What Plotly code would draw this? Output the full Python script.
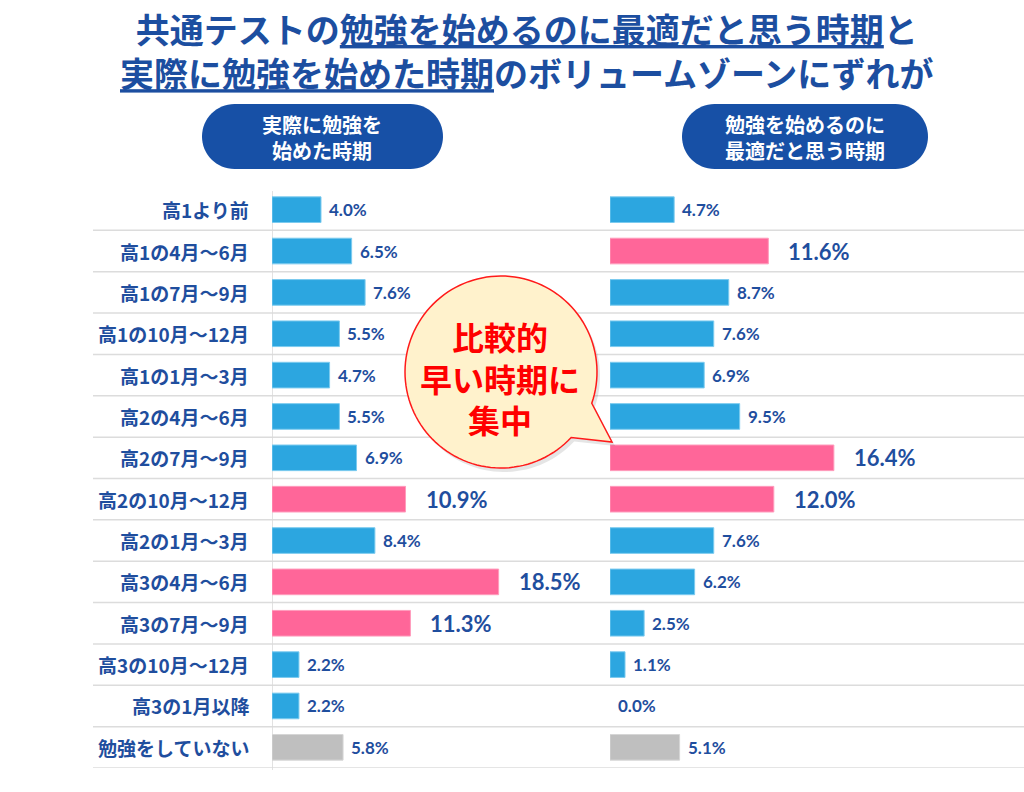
import math
import plotly.graph_objects as go

W, H = 1024, 792

categories = ["高1より前", "高1の4月～6月", "高1の7月～9月", "高1の10月～12月", "高1の1月～3月",
              "高2の4月～6月", "高2の7月～9月", "高2の10月～12月", "高2の1月～3月",
              "高3の4月～6月", "高3の7月～9月", "高3の10月～12月", "高3の1月以降", "勉強をしていない"]
actual_values = [4.0, 6.5, 7.6, 5.5, 4.7, 5.5, 6.9, 10.9, 8.4, 18.5, 11.3, 2.2, 2.2, 5.8]
ideal_values = [4.7, 11.6, 8.7, 7.6, 6.9, 9.5, 16.4, 12.0, 7.6, 6.2, 2.5, 1.1, 0.0, 5.1]
actual_highlight = ["高2の10月～12月", "高3の4月～6月", "高3の7月～9月"]
ideal_highlight = ["高1の4月～6月", "高2の7月～9月", "高2の10月～12月"]
no_study = "勉強をしていない"

title_text = ("共通テストの<u>勉強を始めるのに最適だと思う時期</u>と<br>"
              "<u>実際に勉強を始めた時期</u>のボリュームゾーンにずれが")
left_header = "実際に勉強を<br>始めた時期"
right_header = "勉強を始めるのに<br>最適だと思う時期"
bubble_text = "比較的<br>早い時期に<br>集中"

BLUE = "#2CA6E0"
PINK = "#FF6699"
GRAY = "#BFBFBF"
NAVY = "#1F4E9E"
PILL = "#1750A6"


def X(px):
    return px / W


def Y(py):
    return 1 - py / H


def colors_for(highlight):
    out = []
    for c in categories:
        if c == no_study:
            out.append(GRAY)
        elif c in highlight:
            out.append(PINK)
        else:
            out.append(BLUE)
    return out


def line_for(highlight):
    out = []
    for c in categories:
        if c == no_study:
            out.append("#D6D6D6")
        elif c in highlight:
            out.append("#FF9CBC")
        else:
            out.append("#7CCBEF")
    return out


def line_widths(values):
    return [1 if v > 0 else 0 for v in values]


fig = go.Figure()
fig.add_trace(go.Bar(x=actual_values, y=categories, orientation="h", xaxis="x", yaxis="y",
                     width=0.62, marker=dict(color=colors_for(actual_highlight),
                                             line=dict(color=line_for(actual_highlight),
                                                       width=line_widths(actual_values))),
                     hoverinfo="skip", showlegend=False))
fig.add_trace(go.Bar(x=ideal_values, y=categories, orientation="h", xaxis="x2", yaxis="y",
                     width=0.62, marker=dict(color=colors_for(ideal_highlight),
                                             line=dict(color=line_for(ideal_highlight),
                                                       width=line_widths(ideal_values))),
                     hoverinfo="skip", showlegend=False))

left_scale = 12.25
right_scale = 13.65
fig.update_layout(
    width=W, height=H, margin=dict(l=0, r=0, t=0, b=0),
    paper_bgcolor="white", plot_bgcolor="rgba(0,0,0,0)",
    barmode="overlay",
    xaxis=dict(domain=[X(272), X(600)], range=[0, (600 - 272) / left_scale], visible=False, fixedrange=True),
    xaxis2=dict(domain=[X(610), 1], range=[0, (W - 610) / right_scale], visible=False, fixedrange=True),
    yaxis=dict(domain=[Y(768), Y(189)], type="category", categoryorder="array", categoryarray=categories,
               range=[len(categories) - 0.5, -0.5], visible=False, fixedrange=True),
)

shapes = []
# row separator lines
for i in range(len(categories)):
    shapes.append(dict(type="line", xref="paper", yref="y", x0=X(93), x1=1, y0=i + 0.5, y1=i + 0.5,
                       line=dict(color="#DCDCDC", width=1.5), layer="below"))
# left axis line
shapes.append(dict(type="line", xref="x", yref="paper", x0=0, x1=0, y0=Y(191), y1=Y(770),
                   line=dict(color="#D9D9D9", width=1.5), layer="below"))


def pill_path(x0, x1, y0, y1):
    r = (y1 - y0) / 2
    k = 0.5523 * r
    ym = (y0 + y1) / 2
    pts = [("M", [(x0 + r, y0)]), ("L", [(x1 - r, y0)]),
           ("C", [(x1 - r + k, y0), (x1, ym - k), (x1, ym)]),
           ("C", [(x1, ym + k), (x1 - r + k, y1), (x1 - r, y1)]),
           ("L", [(x0 + r, y1)]),
           ("C", [(x0 + r - k, y1), (x0, ym + k), (x0, ym)]),
           ("C", [(x0, ym - k), (x0 + r - k, y0), (x0 + r, y0)])]
    s = ""
    for cmd, ps in pts:
        s += cmd + " " + " ".join(f"{X(a):.5f},{Y(b):.5f}" for a, b in ps) + " "
    return s + "Z"


shapes.append(dict(type="path", xref="paper", yref="paper", path=pill_path(202, 443, 104, 169),
                   fillcolor=PILL, line=dict(width=0)))
shapes.append(dict(type="path", xref="paper", yref="paper", path=pill_path(682, 928, 104, 169),
                   fillcolor=PILL, line=dict(width=0)))


def bubble_path(cx, cy, r, a_start, a_end, tip, dx=0, dy=0):
    pts = []
    n = 120
    span = (a_end - a_start) % 360
    for j in range(n + 1):
        a = math.radians(a_start + span * j / n)
        pts.append((cx + dx + r * math.cos(a), cy + dy + r * math.sin(a)))
    pts.append((tip[0] + dx, tip[1] + dy))
    s = "M " + " L ".join(f"{X(a):.5f},{Y(b):.5f}" for a, b in pts) + " Z"
    return s


bcx, bcy, br = 501, 372, 96
shapes.append(dict(type="path", xref="paper", yref="paper",
                   path=bubble_path(bcx, bcy, br, 43, 19, (612, 442), 3, 4),
                   fillcolor="rgba(0,0,0,0.10)", line=dict(width=0), layer="above"))
shapes.append(dict(type="path", xref="paper", yref="paper",
                   path=bubble_path(bcx, bcy, br, 43, 19, (612, 442)),
                   fillcolor="#FFF2CC", line=dict(color="#FF1A1A", width=1.5), layer="above"))

annotations = []
annotations.append(dict(text=f"<b>{title_text}</b>", xref="paper", yref="paper", x=X(527), y=Y(50),
                        xanchor="center", yanchor="middle", showarrow=False,
                        font=dict(family="Noto Sans CJK JP", size=34, color="#1C4EA0")))
annotations.append(dict(text=f"<b>{left_header}</b>", xref="paper", yref="paper", x=X(322), y=Y(137),
                        xanchor="center", yanchor="middle", showarrow=False,
                        font=dict(family="Noto Sans CJK JP", size=20, color="white")))
annotations.append(dict(text=f"<b>{right_header}</b>", xref="paper", yref="paper", x=X(805), y=Y(137),
                        xanchor="center", yanchor="middle", showarrow=False,
                        font=dict(family="Noto Sans CJK JP", size=20, color="white")))
for c in categories:
    annotations.append(dict(text=f"<b>{c}</b>", xref="paper", yref="y", x=X(251), y=c,
                            xanchor="right", yanchor="middle", showarrow=False,
                            font=dict(family="Noto Sans CJK JP", size=19, color=NAVY)))


def value_labels(values, highlight, xref):
    for c, v in zip(categories, values):
        big = c in highlight
        annotations.append(dict(text=f"<b>{v:.1f}%</b>", xref=xref, yref="y", x=v, y=c,
                                xanchor="left", yanchor="middle", showarrow=False,
                                xshift=18 if big else 6,
                                font=dict(family="Lato, Noto Sans CJK JP", size=22 if big else 17, color=NAVY)))


value_labels(actual_values, actual_highlight, "x")
value_labels(ideal_values, ideal_highlight, "x2")

annotations.append(dict(text=f"<b>{bubble_text}</b>", xref="paper", yref="paper", x=X(500), y=Y(377),
                        xanchor="center", yanchor="middle", showarrow=False,
                        font=dict(family="Noto Sans CJK JP", size=32, color="#FF0000")))

fig.update_layout(shapes=shapes, annotations=annotations)

fig.write_html("out.html", config={"displayModeBar": False},
               post_script="document.body.style.margin='0';")
